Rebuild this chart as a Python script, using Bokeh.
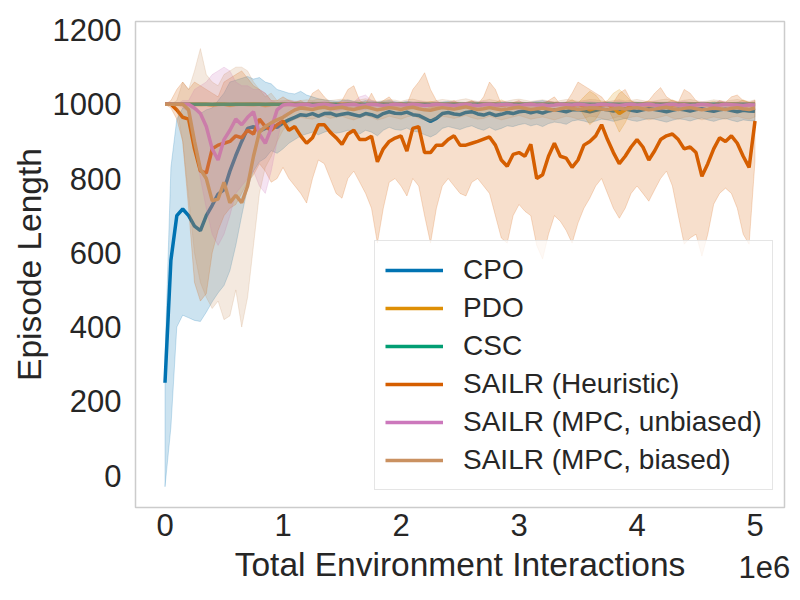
from bokeh.plotting import figure
from bokeh.models import Range1d, FixedTicker, Legend, LegendItem
from bokeh.embed import file_html
from bokeh.resources import INLINE

# x positions, in millions of environment interactions
steps = [
    0.0, 0.05, 0.1, 0.15, 0.2, 0.25, 0.3, 0.35, 0.4, 0.45,
    0.5, 0.55, 0.6, 0.65, 0.7, 0.75, 0.8, 0.85, 0.9, 0.95,
    1.0, 1.05, 1.1, 1.15, 1.2, 1.25, 1.3, 1.35, 1.4, 1.45,
    1.5, 1.55, 1.6, 1.65, 1.7, 1.75, 1.8, 1.85, 1.9, 1.95,
    2.0, 2.05, 2.1, 2.15, 2.2, 2.25, 2.3, 2.35, 2.4, 2.45,
    2.5, 2.55, 2.6, 2.65, 2.7, 2.75, 2.8, 2.85, 2.9, 2.95,
    3.0, 3.05, 3.1, 3.15, 3.2, 3.25, 3.3, 3.35, 3.4, 3.45,
    3.5, 3.55, 3.6, 3.65, 3.7, 3.75, 3.8, 3.85, 3.9, 3.95,
    4.0, 4.05, 4.1, 4.15, 4.2, 4.25, 4.3, 4.35, 4.4, 4.45,
    4.5, 4.55, 4.6, 4.65, 4.7, 4.75, 4.8, 4.85, 4.9, 4.95,
    5.0,
]

# tick values / labels (the last one carries the "1e6" offset text)
x_ticks = [0, 1, 2, 3, 4, 5, 5.08]
x_tick_labels = ["0", "1", "2", "3", "4", "5", "\n1e6"]
y_ticks = [0, 200, 400, 600, 800, 1000, 1200]

# ---- CPO ----
cpo = [
    250, 580, 700, 718, 700, 672, 660, 700, 728, 758,
    770, 820, 862, 900, 935, 940, 928, 935, 945, 938,
    950, 958, 965, 972, 970, 975, 968, 975, 976, 970,
    973, 976, 972, 968, 975, 972, 966, 975, 980, 976,
    975, 979, 972, 970, 962, 954, 962, 975, 978, 974,
    972, 978, 980, 974, 971, 976, 970, 973, 978, 975,
    980, 982, 977, 981, 976, 982, 985, 983, 980, 985,
    986, 983, 980, 984, 987, 985, 982, 986, 988, 984,
    981, 985, 988, 986, 983, 980, 984, 987, 985, 982,
    986, 988, 984, 981, 985, 987, 983, 980, 984, 982,
    981,
]
cpo_lo = [
    -30, 130, 400, 432, 425, 418, 415, 440, 468, 492,
    512, 552, 620, 700, 775, 820, 845, 855, 875, 868,
    880, 895, 905, 915, 920, 925, 918, 925, 930, 922,
    925, 930, 928, 920, 930, 925, 915, 930, 938, 932,
    930, 936, 928, 925, 918, 912, 920, 935, 940, 936,
    932, 938, 942, 935, 930, 938, 930, 935, 942, 940,
    945, 948, 942, 946, 940, 948, 952, 950, 946, 955,
    958, 955, 950, 955, 960, 958, 954, 958, 962, 957,
    954, 958, 962, 960, 956, 952, 957, 961, 959, 955,
    960, 963, 958, 954, 959, 962, 957, 953, 958, 956,
    955,
]
cpo_hi = [
    320, 830, 960, 990, 995, 985, 975, 985, 990, 1010,
    1030, 1060, 1065, 1070, 1075, 1068, 1072, 1060, 1055, 1040,
    1035, 1030, 1028, 1035, 1025, 1020, 1015, 1012, 1010, 1008,
    1010, 1012, 1008, 1006, 1010, 1008, 1006, 1008, 1010, 1007,
    1005, 1008, 1006, 1004, 1003, 1002, 1004, 1006, 1008, 1005,
    1003, 1005, 1007, 1006, 1004, 1005, 1003, 1004, 1006, 1005,
    1003, 1004, 1006, 1008, 1010, 1007, 1005, 1004, 1003, 1005,
    1006, 1004, 1003, 1002, 1004, 1006, 1005, 1003, 1004, 1006,
    1005, 1003, 1002, 1004, 1005, 1006, 1004, 1003, 1002, 1004,
    1005, 1004, 1003, 1005, 1006, 1004, 1003, 1004, 1005, 1003,
    1002,
]

# ---- PDO ----
pdo = [
    1000, 1000, 1000, 1000, 1000, 1000, 1000, 1000, 999, 1000,
    1000, 999, 1000, 1000, 1000, 1000, 1000, 999, 1000, 1000,
    1000, 1000, 1000, 999, 1000, 1000, 1000, 1000, 1000, 1000,
    1000, 1000, 1000, 1000, 998, 1000, 1000, 1000, 999, 1000,
    1000, 1000, 1000, 1000, 1000, 999, 1000, 1000, 1000, 1000,
    1000, 1000, 999, 1000, 1000, 1000, 1000, 998, 1000, 1000,
    1000, 1000, 1000, 1000, 1000, 999, 1000, 1000, 1000, 997,
    1000, 995, 985, 990, 998, 1000, 990, 975, 985, 998,
    1000, 1000, 999, 1000, 1000, 1000, 998, 1000, 1000, 1000,
    1000, 1000, 1000, 999, 1000, 1000, 1000, 1000, 998, 1000,
    1000,
]
pdo_lo = [
    1000, 998, 996, 995, 996, 995, 994, 995, 993, 995,
    996, 993, 995, 996, 995, 994, 996, 992, 995, 996,
    995, 996, 994, 992, 995, 996, 995, 994, 996, 995,
    994, 995, 996, 994, 988, 995, 996, 995, 992, 994,
    995, 996, 994, 995, 996, 990, 994, 995, 996, 995,
    994, 995, 990, 994, 996, 995, 994, 985, 994, 995,
    996, 994, 995, 996, 994, 990, 995, 996, 994, 982,
    995, 970, 945, 960, 985, 990, 960, 925, 950, 985,
    994, 995, 990, 994, 996, 995, 985, 994, 995, 994,
    995, 996, 994, 990, 995, 996, 994, 995, 985, 994,
    995,
]
pdo_hi = [
    1000, 1002, 1003, 1004, 1003, 1004, 1005, 1004, 1004, 1005,
    1004, 1005, 1004, 1003, 1004, 1005, 1004, 1005, 1004, 1003,
    1004, 1003, 1005, 1005, 1004, 1003, 1004, 1005, 1003, 1004,
    1005, 1004, 1003, 1005, 1008, 1004, 1003, 1004, 1006, 1005,
    1004, 1003, 1005, 1004, 1003, 1008, 1005, 1004, 1003, 1004,
    1005, 1004, 1008, 1005, 1003, 1004, 1005, 1012, 1005, 1004,
    1003, 1005, 1004, 1003, 1005, 1008, 1004, 1003, 1005, 1012,
    1003, 1020, 1035, 1025, 1005, 1010, 1030, 1040, 1025, 1008,
    1005, 1004, 1008, 1005, 1003, 1004, 1012, 1005, 1004, 1005,
    1004, 1003, 1005, 1008, 1004, 1003, 1005, 1004, 1012, 1005,
    1004,
]

# ---- CSC ----
csc = [
    1000, 1000, 1000, 1000, 1000, 1000, 1000, 1000, 1000, 1000,
    1000, 1000, 1000, 1000, 1000, 1000, 1000, 1000, 1000, 1000,
    1000, 1000, 1000, 1000, 1000, 1000, 1000, 1000, 1000, 1000,
    999, 1000, 1000, 1000, 1000, 1000, 1000, 1000, 1000, 1000,
    1000, 1000, 1000, 1000, 1000, 1000, 1000, 1000, 1000, 1000,
    1000, 1000, 1000, 1000, 1000, 1000, 1000, 1000, 1000, 1000,
    1000, 1000, 1000, 1000, 1000, 1000, 1000, 1000, 1000, 1000,
    1000, 1000, 1000, 1000, 1000, 1000, 1000, 1000, 1000, 1000,
    1000, 1000, 1000, 1000, 1000, 1000, 1000, 1000, 1000, 1000,
    1000, 1000, 1000, 1000, 1000, 1000, 1000, 1000, 1000, 1000,
    1000,
]

# ---- SAILR (Heuristic) ----
heur = [
    1000, 1000, 985, 965, 960, 880, 820, 815, 880, 890,
    895, 900, 915, 910, 930, 920, 960, 940, 930, 945,
    955, 930, 940, 915, 895, 910, 945, 945, 925, 910,
    892, 920, 930, 905, 905, 914, 845, 880, 900, 909,
    915, 874, 935, 940, 870, 870, 890, 890, 905, 915,
    890, 890, 895, 900, 906, 912, 890, 850, 833, 865,
    870, 860, 892, 800, 810, 860, 895, 860, 855, 830,
    850, 890, 900, 915, 945, 905, 870, 840, 860, 885,
    905, 885, 850, 875, 905, 915, 920, 905, 880, 885,
    870, 806, 840, 880, 910, 900, 915, 895, 860, 830,
    955,
]
heur_lo = [
    1000, 990, 960, 900, 720, 520, 470, 490, 600, 660,
    700, 720, 730, 760, 790, 810, 840, 820, 790, 800,
    830, 800, 780, 760, 734, 800, 850, 840, 800, 760,
    747, 800, 820, 790, 760, 720, 626, 720, 790, 800,
    780, 753, 800, 780, 700, 626, 720, 780, 800, 780,
    760, 753, 790, 800, 780, 760, 700, 640, 626, 700,
    730, 712, 700, 620, 583, 650, 700, 685, 660, 626,
    680, 720, 747, 780, 800, 760, 720, 693, 720, 760,
    780, 760, 739, 770, 800, 820, 780, 700, 623, 640,
    650, 591, 650, 731, 760, 774, 760, 720, 650, 623,
    847,
]
heur_hi = [
    1000, 1010, 1040, 1060, 1040, 1060, 1050, 1040, 1030, 1020,
    1060, 1070, 1080, 1090, 1070, 1050, 1040, 1030, 1010, 1010,
    1020, 1010, 1005, 1010, 1000, 1030, 1040, 1020, 1005, 1000,
    1010, 1040, 1050, 1010, 1000, 1030, 1000, 1010, 1020, 1000,
    1005, 1000, 1040, 1060, 1085, 1040, 1010, 1000, 1005, 1010,
    1000, 1005, 1010, 1000, 1020, 1060, 1040, 1000, 1000, 1005,
    1010, 1000, 1005, 1000, 1000, 1010, 1020, 1000, 1005, 1030,
    1060, 1050, 1040, 1030, 1020, 1000, 1005, 1030, 1040, 1010,
    1000, 1005, 1010, 1030, 1045, 1020, 1010, 1005, 1040, 1030,
    1010, 1000, 1005, 1000, 1010, 1005, 1020, 1025, 1010, 1005,
    1010,
]

# ---- SAILR (MPC, unbiased) ----
unb = [
    1000, 1000, 1000, 1000, 1000, 990, 975, 940, 880, 850,
    905, 930, 960, 945, 965, 980, 920, 895, 935, 985,
    998, 1000, 998, 999, 1000, 997, 999, 1000, 998, 996,
    998, 999, 1000, 997, 998, 1000, 999, 997, 998, 1000,
    999, 998, 1000, 999, 997, 998, 1000, 999, 998, 997,
    999, 1000, 998, 997, 999, 1000, 998, 999, 1000, 998,
    997, 999, 1000, 998, 999, 997, 998, 1000, 999, 998,
    1000, 999, 997, 998, 1000, 999, 998, 997, 999, 1000,
    998, 999, 1000, 998, 997, 999, 1000, 998, 999, 997,
    998, 1000, 999, 997, 998, 1000, 999, 998, 997, 999,
    998,
]
unb_lo = [
    1000, 1000, 1000, 990, 980, 900, 800, 720, 650, 620,
    650, 700, 760, 780, 800, 820, 780, 760, 820, 900,
    970, 985, 980, 988, 990, 985, 988, 990, 985, 982,
    986, 988, 990, 984, 986, 990, 988, 984, 986, 990,
    988, 986, 990, 988, 984, 986, 990, 988, 986, 984,
    988, 990, 986, 984, 988, 990, 986, 988, 990, 986,
    984, 988, 990, 986, 988, 984, 986, 990, 988, 986,
    990, 988, 984, 986, 990, 988, 986, 984, 988, 990,
    986, 988, 990, 986, 984, 988, 990, 986, 988, 984,
    986, 990, 988, 984, 986, 990, 988, 986, 984, 988,
    986,
]
unb_hi = [
    1000, 1000, 1000, 1010, 1010, 1040, 1050, 1060, 1080, 1090,
    1100, 1090, 1060, 1050, 1050, 1040, 1040, 1030, 1010, 1005,
    1008, 1010, 1008, 1006, 1005, 1007, 1006, 1008, 1006, 1005,
    1007, 1009, 1006, 1020, 1025, 1010, 1006, 1005, 1007, 1006,
    1005, 1007, 1006, 1008, 1006, 1005, 1007, 1006, 1005, 1008,
    1006, 1005, 1007, 1006, 1008, 1006, 1005, 1007, 1006, 1005,
    1008, 1006, 1005, 1007, 1006, 1008, 1006, 1005, 1007, 1006,
    1005, 1007, 1008, 1006, 1005, 1007, 1006, 1008, 1006, 1005,
    1007, 1006, 1005, 1008, 1006, 1005, 1007, 1006, 1008, 1006,
    1005, 1007, 1006, 1005, 1008, 1006, 1005, 1007, 1006, 1005,
    1006,
]

# ---- SAILR (MPC, biased) ----
bia = [
    1000, 1000, 1000, 1000, 985, 900, 825, 800, 740, 745,
    790, 735, 755, 735, 780, 860, 925, 940, 950, 958,
    965, 975, 985, 990, 988, 986, 990, 992, 988, 990,
    992, 988, 986, 990, 993, 989, 985, 988, 991, 989,
    986, 990, 992, 988, 985, 984, 988, 991, 989, 987,
    990, 993, 989, 986, 988, 991, 988, 985, 987, 990,
    992, 989, 986, 988, 990, 987, 984, 988, 991, 989,
    986, 988, 991, 990, 987, 985, 988, 990, 987, 989,
    991, 988, 985, 987, 990, 992, 988, 986, 989, 991,
    988, 985, 987, 990, 988, 986, 989, 991, 988, 986,
    990,
]
bia_lo = [
    1000, 1000, 990, 900, 750, 600, 520, 480, 450, 470,
    420, 430, 500, 400, 480, 620, 760, 830, 860, 900,
    930, 950, 960, 965, 962, 960, 965, 968, 962, 965,
    968, 962, 958, 964, 970, 965, 958, 962, 968, 964,
    960, 966, 970, 962, 958, 955, 962, 968, 965, 962,
    966, 970, 964, 960, 962, 968, 963, 958, 962, 966,
    970, 965, 960, 963, 966, 962, 958, 963, 968, 965,
    960, 962, 968, 966, 962, 958, 963, 967, 962, 965,
    968, 963, 958, 962, 966, 970, 963, 960, 965, 968,
    963, 958, 962, 966, 963, 960, 965, 968, 963, 960,
    966,
]
bia_hi = [
    1000, 1000, 1010, 1060, 1040, 1090, 1150, 1080, 1060, 1050,
    1080, 1090, 1100, 1100, 1090, 1060, 1040, 1020, 1030, 1010,
    1010, 1012, 1008, 1010, 1012, 1010, 1014, 1012, 1010, 1012,
    1014, 1010, 1008, 1012, 1015, 1011, 1008, 1010, 1013, 1011,
    1008, 1012, 1014, 1010, 1008, 1006, 1010, 1013, 1011, 1009,
    1012, 1015, 1011, 1008, 1010, 1013, 1010, 1007, 1009, 1012,
    1014, 1011, 1008, 1010, 1012, 1009, 1006, 1010, 1013, 1011,
    1008, 1010, 1013, 1012, 1009, 1007, 1010, 1012, 1009, 1011,
    1013, 1010, 1007, 1009, 1012, 1014, 1010, 1008, 1011, 1013,
    1010, 1007, 1009, 1012, 1010, 1008, 1011, 1013, 1010, 1008,
    1012,
]

series = [
    ("CPO", cpo, cpo_lo, cpo_hi, "#0173b2"),
    ("PDO", pdo, pdo_lo, pdo_hi, "#de8f05"),
    ("CSC", csc, None, None, "#029e73"),
    ("SAILR (Heuristic)", heur, heur_lo, heur_hi, "#d55e00"),
    ("SAILR (MPC, unbiased)", unb, unb_lo, unb_hi, "#cc78bc"),
    ("SAILR (MPC, biased)", bia, bia_lo, bia_hi, "#ca9161"),
]

FONT = "Liberation Sans"
TXT = "#262626"

p = figure(width=792, height=592, output_backend="svg", toolbar_location=None,
           x_range=Range1d(-0.25, 5.25), y_range=Range1d(-86, 1223),
           min_border_left=135, min_border_right=8, min_border_top=21,
           min_border_bottom=85, background_fill_color="white",
           border_fill_color="white")

p.xgrid.visible = False
p.ygrid.visible = False
p.outline_line_color = "#cccccc"
p.outline_line_width = 1.5

items = []
for name, mean, lo, hi, col in series:
    r = p.line(steps, mean, line_color=col, line_width=3.5)
    if lo is not None:
        xs = steps + steps[::-1]
        ys = hi + lo[::-1]
        p.patch(xs, ys, fill_color=col, fill_alpha=0.2, line_color=col,
                line_alpha=0.2, line_width=1)
    items.append(LegendItem(label=name, renderers=[r]))

legend = Legend(items=items, location=(239, 17))
legend.label_text_font = FONT
legend.label_text_font_size = "28px"
legend.label_text_color = TXT
legend.glyph_width = 58
legend.glyph_height = 38
legend.label_height = 38
legend.label_standoff = 20
legend.spacing = 0
legend.padding = 10
legend.margin = 0
legend.border_line_color = "#cccccc"
legend.border_line_width = 1.2
legend.background_fill_color = "white"
legend.background_fill_alpha = 0.8
p.add_layout(legend)

for ax in (p.xaxis[0], p.yaxis[0]):
    ax.axis_line_color = None
    ax.major_tick_line_color = None
    ax.minor_tick_line_color = None
    ax.major_label_text_font = FONT
    ax.major_label_text_font_size = "31px"
    ax.major_label_text_color = TXT
    ax.axis_label_text_font = FONT
    ax.axis_label_text_font_size = "33.5px"
    ax.axis_label_text_color = TXT
    ax.axis_label_text_font_style = "normal"

p.xaxis[0].ticker = FixedTicker(ticks=x_ticks)
p.xaxis[0].major_label_overrides = {t: s for t, s in zip(x_ticks, x_tick_labels)}
p.xaxis[0].major_label_standoff = -6
p.xaxis[0].axis_label = "Total Environment Interactions"
p.xaxis[0].axis_label_standoff = -42

p.yaxis[0].ticker = FixedTicker(ticks=y_ticks)
p.yaxis[0].major_label_standoff = 8
p.yaxis[0].axis_label = "Episode Length"
p.yaxis[0].axis_label_standoff = 2

open("out.html", "w").write(file_html(p, INLINE))
